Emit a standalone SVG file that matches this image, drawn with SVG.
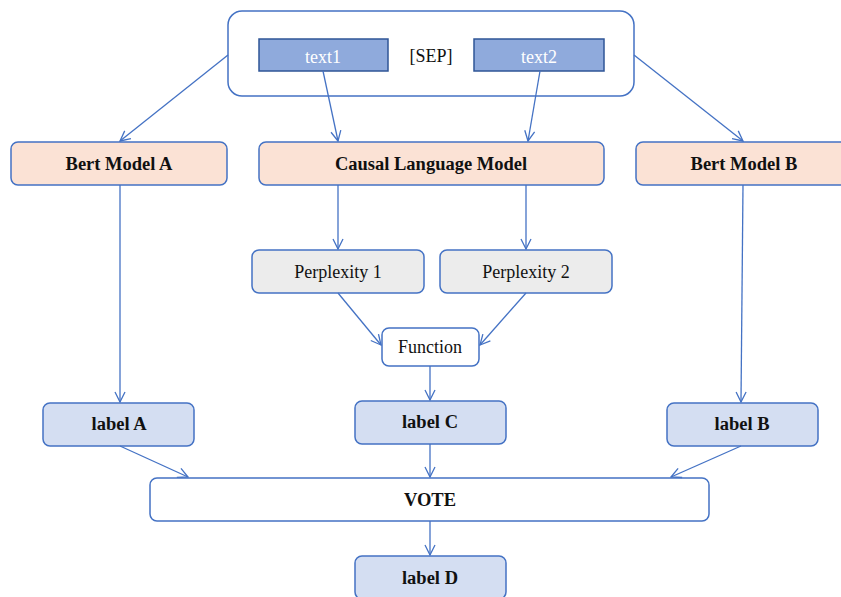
<svg xmlns="http://www.w3.org/2000/svg" width="841" height="597" viewBox="0 0 841 597">
<defs>
<marker id="arr" viewBox="0 0 12 12" refX="11" refY="6" markerWidth="12" markerHeight="12" markerUnits="userSpaceOnUse" orient="auto">
<path d="M1,1 L11,6 L1,11" fill="none" stroke="#4472c4" stroke-width="1.3"/>
</marker>
<style>
.box{stroke:#4472c4;stroke-width:1.5}
.peach{fill:#fbe2d5}
.grey{fill:#ececec}
.blue{fill:#d4def2}
.white{fill:#ffffff}
.tok{fill:#8faadc;stroke:#2f5597;stroke-width:1.5}
.t{font-family:"Liberation Serif",serif;font-size:18px;text-anchor:middle;dominant-baseline:central;fill:#111}
.b{font-weight:bold;font-size:18.5px}
.w{fill:#ffffff}
.c{fill:none;stroke:#4472c4;stroke-width:1.3;marker-end:url(#arr)}
</style>
</defs>
<rect width="841" height="597" fill="#ffffff"/>
<g id="input">
<rect class="box white" x="228" y="11" width="406" height="85" rx="14"/>
<rect class="tok" x="259" y="39" width="129" height="32"/>
<text class="t w" x="323" y="57">text1</text>
<text class="t" x="431" y="56">[SEP]</text>
<rect class="tok" x="474" y="39" width="130" height="32"/>
<text class="t w" x="539" y="57">text2</text>
</g>
<g id="bertA">
<rect class="box peach" x="11" y="142" width="216" height="43" rx="7"/>
<text class="t b" x="119" y="164">Bert Model A</text>
</g>
<g id="clm">
<rect class="box peach" x="259" y="142" width="345" height="43" rx="7"/>
<text class="t b" x="431" y="164">Causal Language Model</text>
</g>
<g id="bertB">
<rect class="box peach" x="636" y="142" width="216" height="43" rx="7"/>
<text class="t b" x="744" y="164">Bert Model B</text>
</g>
<g id="perp1">
<rect class="box grey" x="252" y="250" width="172" height="43" rx="7"/>
<text class="t" x="338" y="272">Perplexity 1</text>
</g>
<g id="perp2">
<rect class="box grey" x="440" y="250" width="172" height="43" rx="7"/>
<text class="t" x="526" y="272">Perplexity 2</text>
</g>
<g id="function">
<rect class="box white" x="382" y="328" width="97" height="38" rx="7"/>
<text class="t" x="430" y="347">Function</text>
</g>
<g id="labelA">
<rect class="box blue" x="43" y="403" width="151" height="43" rx="7"/>
<text class="t b" x="119" y="424">label A</text>
</g>
<g id="labelC">
<rect class="box blue" x="355" y="401" width="151" height="43" rx="7"/>
<text class="t b" x="430" y="422">label C</text>
</g>
<g id="labelB">
<rect class="box blue" x="667" y="403" width="151" height="43" rx="7"/>
<text class="t b" x="742" y="424">label B</text>
</g>
<g id="vote">
<rect class="box white" x="150" y="478" width="559" height="43" rx="7"/>
<text class="t b" x="430" y="500">VOTE</text>
</g>
<g id="labelD">
<rect class="box blue" x="355" y="556" width="151" height="43" rx="7"/>
<text class="t b" x="430" y="578">label D</text>
</g>
<g id="connectors">
<line class="c" x1="228" y1="55" x2="120" y2="141"/>
<line class="c" x1="634" y1="55" x2="743" y2="141"/>
<line class="c" x1="323" y1="71" x2="338" y2="141"/>
<line class="c" x1="540" y1="71" x2="528" y2="141"/>
<line class="c" x1="338" y1="185" x2="338" y2="249"/>
<line class="c" x1="526" y1="185" x2="526" y2="249"/>
<line class="c" x1="120" y1="185" x2="120" y2="402"/>
<line class="c" x1="743" y1="185" x2="741" y2="402"/>
<line class="c" x1="338" y1="293" x2="381" y2="345"/>
<line class="c" x1="526" y1="293" x2="480" y2="345"/>
<line class="c" x1="430" y1="366" x2="430" y2="400"/>
<line class="c" x1="120" y1="446" x2="188" y2="477"/>
<line class="c" x1="430" y1="444" x2="430" y2="477"/>
<line class="c" x1="741" y1="446" x2="671" y2="477"/>
<line class="c" x1="430" y1="521" x2="430" y2="555"/>
</g>
</svg>
